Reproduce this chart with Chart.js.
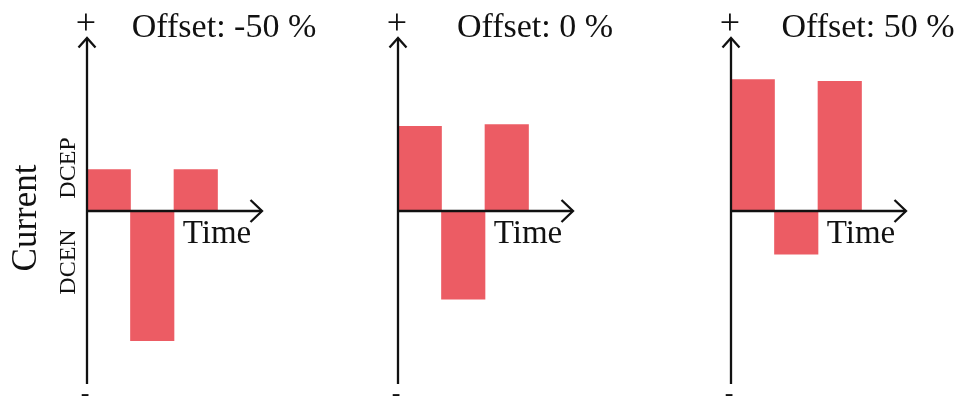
<!DOCTYPE html>
<html>
<head>
<meta charset="utf-8">
<script src="https://cdn.jsdelivr.net/npm/chart.js@4/dist/chart.umd.min.js"></script>
<style>
  html, body { margin: 0; padding: 0; background: #ffffff; }
  #wrap { position: relative; width: 961px; height: 396px; overflow: hidden; }
  canvas { position: absolute; top: 0; }
</style>
</head>
<body>
<div id="wrap">
  <canvas id="c1" width="330" height="396" style="left:0px"></canvas>
  <canvas id="c2" width="330" height="396" style="left:330px"></canvas>
  <canvas id="c3" width="301" height="396" style="left:660px"></canvas>
</div>
<script>
// Pulse periods along the time axis (4th slot is empty room for the arrow)
const periods = ['1', '2', '3', '4'];

// Current in each period, % of full scale (+ = DCEP, - = DCEN)
const currentOffsetMinus50 = [24, -75, 24, null];
const currentOffset0 = [49, -51, 50, null];
const currentOffsetPlus50 = [76, -25, 75, null];

const panelTitles = ['Offset: -50 %', 'Offset: 0 %', 'Offset: 50 %'];
const axisTitleY = 'Current';
const axisTitleX = 'Time';
const polarityLabels = ['DCEP', 'DCEN'];

const SERIF = '"Liberation Serif", "Times New Roman", serif';
const BAR_COLOR = '#ec5c64';
const INK = '#111111';

// Draws the arrowed axes and the texts around them
function axesPlugin(title, withYTitle) {
  return {
    id: 'arrowAxes',
    afterDatasetsDraw(chart) {
      const ctx = chart.ctx;
      const area = chart.chartArea;
      const y = chart.scales.y;
      const x0 = area.left;
      const yZero = y.getPixelForValue(0);
      const yTop = y.getPixelForValue(100);
      const yBottom = y.getPixelForValue(-100);
      const xEnd = area.right + 1;

      ctx.save();
      ctx.strokeStyle = INK;
      ctx.lineWidth = 2.3;
      ctx.lineCap = 'butt';
      ctx.lineJoin = 'miter';

      // vertical axis
      ctx.beginPath();
      ctx.moveTo(x0, yBottom);
      ctx.lineTo(x0, yTop);
      ctx.stroke();
      ctx.beginPath();
      ctx.moveTo(x0 - 8.5, yTop + 9.5);
      ctx.lineTo(x0, yTop);
      ctx.lineTo(x0 + 8.5, yTop + 9.5);
      ctx.stroke();

      // horizontal (time) axis
      ctx.beginPath();
      ctx.moveTo(x0, yZero);
      ctx.lineTo(xEnd, yZero);
      ctx.stroke();
      ctx.beginPath();
      ctx.moveTo(xEnd - 11.5, yZero - 11);
      ctx.lineTo(xEnd, yZero);
      ctx.lineTo(xEnd - 11.5, yZero + 11);
      ctx.stroke();

      ctx.fillStyle = INK;
      // + and - markers at the ends of the current axis
      ctx.textAlign = 'center';
      ctx.textBaseline = 'middle';
      ctx.font = '36px ' + SERIF;
      ctx.fillText('+', x0 - 1, yTop - 13);
      ctx.font = '26px ' + SERIF;
      ctx.fillText('-', x0 - 2, yBottom + 10.5);

      // panel title
      ctx.textBaseline = 'alphabetic';
      ctx.font = '34px ' + SERIF;
      ctx.fillText(title, x0 + 137, yTop - 1);

      // time axis title
      ctx.font = '33px ' + SERIF;
      ctx.fillText(axisTitleX, x0 + 130, yZero + 32);

      if (withYTitle) {
        ctx.save();
        ctx.translate(36, (yTop + yBottom) / 2 + 7);
        ctx.rotate(-Math.PI / 2);
        ctx.font = '35px ' + SERIF;
        ctx.fillText(axisTitleY, 0, 0);
        ctx.restore();

        ctx.save();
        ctx.translate(x0 - 12, yZero - 43);
        ctx.rotate(-Math.PI / 2);
        ctx.font = '24px ' + SERIF;
        ctx.fillText(polarityLabels[0], 0, 0);
        ctx.restore();

        ctx.save();
        ctx.translate(x0 - 12, yZero + 51);
        ctx.rotate(-Math.PI / 2);
        ctx.font = '24px ' + SERIF;
        ctx.fillText(polarityLabels[1], 0, 0);
        ctx.restore();
      }
      ctx.restore();
    }
  };
}

function makePanel(id, values, title, padLeft, padRight, withYTitle) {
  return new Chart(document.getElementById(id), {
    type: 'bar',
    data: {
      labels: periods,
      datasets: [{
        data: values,
        backgroundColor: BAR_COLOR,
        borderWidth: 0,
        barPercentage: 1,
        categoryPercentage: 1
      }]
    },
    options: {
      responsive: false,
      animation: false,
      layout: { padding: { left: padLeft, right: padRight, top: 38, bottom: 12 } },
      plugins: { legend: { display: false }, tooltip: { enabled: false }, title: { display: false } },
      scales: {
        x: { display: false },
        y: { display: false, min: -100, max: 100 }
      }
    },
    plugins: [axesPlugin(title, withYTitle)]
  });
}

makePanel('c1', currentOffsetMinus50, panelTitles[0], 87, 69, true);
makePanel('c2', currentOffset0, panelTitles[1], 68, 88, false);
makePanel('c3', currentOffsetPlus50, panelTitles[2], 71, 56, false);
</script>
</body>
</html>
